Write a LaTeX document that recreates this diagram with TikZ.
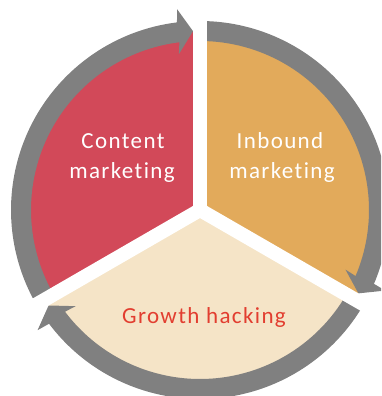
\documentclass[tikz,border=0pt]{standalone}
\usepackage{fontspec}
\setmainfont{Carlito}[LetterSpace=6, Ligatures={NoCommon,NoContextual}]
\definecolor{redc}{RGB}{210,73,89}
\definecolor{orangec}{RGB}{226,170,91}
\definecolor{creamc}{RGB}{245,228,199}
\definecolor{grayc}{RGB}{128,128,128}
\definecolor{textred}{RGB}{226,62,48}
\newcommand{\ringarrowpath}{%
  \fill[grayc] (210:169pt) arc[start angle=210,end angle=97,radius=169pt]
    -- (-21.11pt,155.79pt) -- (-7.0pt,178.86pt) -- (-22.87pt,200.75pt)
    -- (97:189pt) arc[start angle=97,end angle=210,radius=189pt] -- cycle;}
\begin{document}
\begin{tikzpicture}[x=1pt,y=1pt,
  lbl/.style={font=\fontsize{23}{28}\selectfont, anchor=base, inner sep=0pt}]
\useasboundingbox (-200,-186) rectangle (181,210);
\clip (-200,-186) rectangle (181,210);
% sectors
\fill[redc] (0,0) -- (90:179pt) arc[start angle=90,end angle=210,radius=179pt] -- cycle;
\fill[orangec] (0,0) -- (-30:179pt) arc[start angle=-30,end angle=90,radius=179pt] -- cycle;
\fill[creamc] (0,0) -- (210:179pt) arc[start angle=210,end angle=330,radius=179pt] -- cycle;
% arrows
\ringarrowpath
\begin{scope}[rotate=-120]\ringarrowpath\end{scope}
\begin{scope}[rotate=120]\ringarrowpath\end{scope}
% gaps
\foreach \a in {90,210,330} \draw[white, line width=14pt] (0,0) -- (\a:225pt);
\fill[white] (0,0) circle (7pt);
% labels
\node[lbl, text=white] (cm1) at (-77,61) {Content};
\node[lbl, text=white] (cm2) at (-78,31) {market{}ing};
\node[lbl, text=white] (im1) at (80,61) {Inbound};
\node[lbl, text=white] (im2) at (82,31) {market{}ing};
\node[lbl, text=textred] (gh) at (4,-113) {Growth hacking};
\end{tikzpicture}
\end{document}
